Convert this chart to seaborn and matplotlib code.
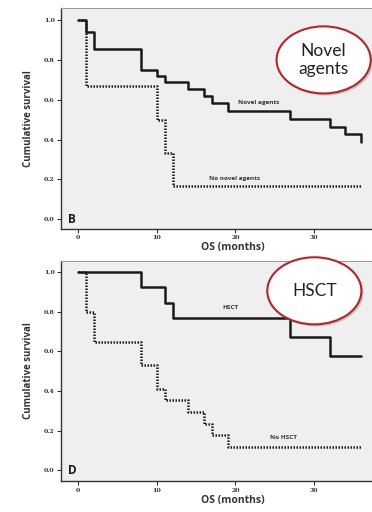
import matplotlib
matplotlib.use("Agg")
import matplotlib.pyplot as plt
import matplotlib.patheffects as pe
from matplotlib.patches import Ellipse
import seaborn as sns
import pandas as pd

# Kaplan-Meier step data (months, cumulative survival)
novel_t = [0, 1, 2, 8, 10, 11, 14, 16, 17, 19, 27, 32, 34, 36]
novel_s = [1.0, 0.941, 0.853, 0.75, 0.72, 0.69, 0.655, 0.62, 0.585, 0.545, 0.505, 0.465, 0.43, 0.39]
no_novel_t = [0, 1, 10, 11, 12, 36]
no_novel_s = [1.0, 0.667, 0.5, 0.333, 0.167, 0.167]

hsct_t = [0, 8, 11, 12, 27, 32, 36]
hsct_s = [1.0, 0.923, 0.846, 0.77, 0.673, 0.577, 0.577]
no_hsct_t = [0, 1, 2, 8, 10, 11, 14, 16, 17, 19, 36]
no_hsct_s = [1.0, 0.8, 0.647, 0.53, 0.412, 0.353, 0.294, 0.235, 0.176, 0.118, 0.118]

x_ticks = [0, 10, 20, 30]
y_ticks = [0.0, 0.2, 0.4, 0.6, 0.8, 1.0]

sns.set_style("white")
plt.rcParams["font.family"] = ["Open Sans", "DejaVu Sans"]

fig = plt.figure(figsize=(3.72, 5.12), dpi=100)
ax_top = fig.add_axes([0.164, 0.5527, 0.925, 0.4316])
ax_bot = fig.add_axes([0.164, 0.0600, 0.925, 0.4308])

panels = [
    (ax_top, (novel_t, novel_s), (no_novel_t, no_novel_s), "B",
     ("Novel agents", 22.9, 0.585), ("No novel agents", 19.9, 0.203), (-0.049, 1.06)),
    (ax_bot, (hsct_t, hsct_s), (no_hsct_t, no_hsct_s), "D",
     ("HSCT", 19.4, 0.822), ("No HSCT", 26.1, 0.168), (-0.055, 1.057)),
]

for ax, solid, dotted, letter, lab_solid, lab_dotted, ylim in panels:
    ax.set_facecolor("#efefef")
    df_dot = pd.DataFrame({"t": dotted[0], "s": dotted[1]})
    df_sol = pd.DataFrame({"t": solid[0], "s": solid[1]})
    sns.lineplot(data=df_dot, x="t", y="s", ax=ax, drawstyle="steps-post",
                 estimator=None, sort=False, color="#1a1a1a", lw=1.8,
                 dashes=False, zorder=2)
    ax.lines[-1].set_linestyle((0, (0.6, 0.6)))
    sns.lineplot(data=df_sol, x="t", y="s", ax=ax, drawstyle="steps-post",
                 estimator=None, sort=False, color="#1a1a1a", lw=1.8,
                 zorder=3)
    ax.set_xlim(-2.2, 41.6)
    ax.set_ylim(*ylim)
    ax.set_xticks(x_ticks)
    ax.set_yticks(y_ticks)
    ax.set_xticklabels([str(v) for v in x_ticks])
    ax.set_yticklabels([f"{v:.1f}" for v in y_ticks])
    ax.tick_params(axis="both", labelsize=4.5, length=3, width=0.8,
                   color="#333333", pad=1.5, labelcolor="#333333")
    ax.tick_params(axis="both", bottom=True, left=True)
    for lab in ax.get_xticklabels() + ax.get_yticklabels():
        lab.set_fontfamily("DejaVu Serif")
        lab.set_fontweight("bold")
    ax.set_xlabel("OS (months)", fontsize=7.5, fontweight="bold",
                  color="#333333", labelpad=1.5)
    ax.set_ylabel("Cumulative survival", fontsize=7, fontweight="bold",
                  color="#333333", labelpad=7)
    for side in ("left", "bottom"):
        ax.spines[side].set_color("#333333")
        ax.spines[side].set_linewidth(1.0)
    ax.spines["top"].set_color("#9a9a9a")
    ax.spines["top"].set_linewidth(0.7)
    ax.spines["right"].set_visible(False)

    ax.text(-1.3, 0.0, letter, fontsize=8.5, fontweight="bold",
            color="#1a1a1a", va="center", ha="left")
    ax.text(lab_solid[1], lab_solid[2], lab_solid[0], fontsize=4.6,
            fontweight="bold", color="#333333", ha="center", va="center")
    ax.text(lab_dotted[1], lab_dotted[2], lab_dotted[0], fontsize=4.6,
            fontweight="bold", color="#333333", ha="center", va="center")

# Highlight callouts
callouts = [("Novel\nagents", 0.870, 0.883), ("HSCT", 0.845, 0.432)]
for text, cx, cy in callouts:
    ell = Ellipse((cx, cy), 0.253, 0.131, transform=fig.transFigure,
                  facecolor="white", edgecolor="#b8232a", lw=1.5, zorder=10)
    ell.set_path_effects([pe.SimplePatchShadow(offset=(1.5, -1.5),
                                               shadow_rgbFace="#9a9a9a",
                                               alpha=0.5),
                          pe.Normal()])
    fig.add_artist(ell)
    fig.text(cx, cy, text, transform=fig.transFigure, fontsize=12.5,
             family=["Lato", "DejaVu Sans"], color="#222222",
             ha="center", va="center", linespacing=1.15, zorder=11)

fig.savefig("out.png", dpi=100)
